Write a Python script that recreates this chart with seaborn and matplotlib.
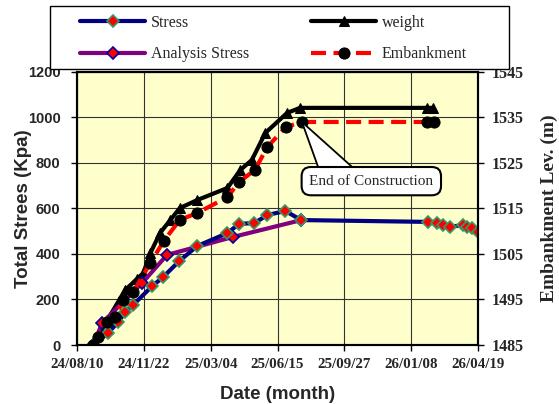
import matplotlib
matplotlib.use("Agg")
import matplotlib.pyplot as plt
from matplotlib.patches import Rectangle, Polygon
import seaborn as sns
import numpy as np

# Date axis: days counted from the first tick
tick_days = [0, 104, 208, 312, 416, 520, 624]
tick_labels = ["24/08/10", "24/11/22", "25/03/04", "25/06/15",
               "25/09/27", "26/01/08", "26/04/19"]

# Measured total stress (kPa)
stress_days = [25, 48, 64, 75, 87, 117, 134, 159, 187, 234, 252, 276, 296,
               324, 349, 546, 560, 570, 581, 600, 607, 615, 624]
stress_kpa = [0, 53, 101, 145, 176, 259, 299, 369, 435, 492, 532, 536, 571,
              589, 549, 541, 536, 527, 519, 527, 519, 514, 497]

# Analysis stress (kPa)
analysis_days = [25, 39, 101, 140, 243, 349]
analysis_kpa = [0, 97, 272, 396, 475, 549]

# Fill weight (kPa)
weight_days = [25, 47, 75, 93, 103, 114, 129, 145, 160, 187, 234, 254, 272,
               293, 327, 347, 545, 554]
weight_kpa = [0, 110, 242, 290, 316, 404, 492, 549, 602, 637, 690, 769, 813,
              932, 1020, 1042, 1042, 1042]

# Embankment level (m)
emb_days = [25, 33, 47, 59, 72, 87, 114, 135, 160, 187, 234, 252, 277, 296,
            325, 350, 545, 556]
emb_lev = [1485.0, 1486.8, 1490.1, 1491.2, 1494.9, 1496.6, 1503.0, 1507.9,
           1512.5, 1514.0, 1517.5, 1520.8, 1523.5, 1528.5, 1532.9, 1534.0,
           1534.0, 1534.0]

SERIF = ["Liberation Serif", "DejaVu Serif"]

sns.set_theme(style="white")
plt.rcParams["font.family"] = ["Liberation Sans", "DejaVu Sans"]

fig = plt.figure(figsize=(5.59, 4.04), dpi=100)
ax = fig.add_axes([0.138, 0.146, 0.717, 0.676])
ax.set_facecolor("#FFFFCC")
ax2 = ax.twinx()

sns.lineplot(x=weight_days, y=weight_kpa, ax=ax, sort=False, estimator=None,
             color="black", linewidth=3, marker="^", markersize=7,
             markerfacecolor="black", markeredgecolor="black", label="weight",
             zorder=3)
sns.lineplot(x=analysis_days, y=analysis_kpa, ax=ax, sort=False, estimator=None,
             color="#800080", linewidth=3, marker="D", markersize=6,
             markerfacecolor="red", markeredgecolor="#0000A0",
             markeredgewidth=1.2, label="Analysis Stress", zorder=4)
sns.lineplot(x=stress_days, y=stress_kpa, ax=ax, sort=False, estimator=None,
             color="#000080", linewidth=3, marker="D", markersize=6,
             markerfacecolor="red", markeredgecolor="#339966",
             markeredgewidth=1.2, label="Stress", zorder=5)
sns.lineplot(x=emb_days, y=emb_lev, ax=ax2, sort=False, estimator=None,
             color="red", linewidth=3, linestyle=(0, (3.6, 1.8)), marker="o",
             markersize=8, markerfacecolor="black", markeredgecolor="black",
             label="Embankment", zorder=3)

for a in (ax, ax2):
    if a.get_legend() is not None:
        a.get_legend().remove()

ax.set_xlim(0, 624)
ax.set_ylim(0, 1200)
ax2.set_ylim(1485, 1545)
ax.set_xticks(tick_days)
ax.set_xticklabels(tick_labels)
ax.set_yticks(np.arange(0, 1201, 200))
ax2.set_yticks(np.arange(1485, 1546, 10))

ax.grid(True, color="#333333", linewidth=0.8)
ax.set_axisbelow(True)
for a in (ax, ax2):
    for s in a.spines.values():
        s.set_color("black")
        s.set_linewidth(1.5)

ax.tick_params(axis="x", direction="out", length=4, width=1, color="black",
               bottom=True, pad=5)
ax.tick_params(axis="y", direction="out", length=4, width=1, color="black",
               left=True, pad=8)
ax2.tick_params(axis="y", direction="out", length=4, width=1, color="black",
                right=True, pad=6)
for lab in ax.get_yticklabels():
    lab.set_fontweight("bold")
    lab.set_fontsize(10.5)
for lab in ax.get_xticklabels():
    lab.set_family(SERIF)
    lab.set_fontweight("bold")
    lab.set_fontsize(10.8)
for lab in ax2.get_yticklabels():
    lab.set_family(SERIF)
    lab.set_fontweight("bold")
    lab.set_fontsize(11.5)

ax.set_xlabel("Date (month)", fontsize=13.5, fontweight="bold", labelpad=11)
ax.set_ylabel("Total Strees (Kpa)", fontsize=13.5, fontweight="bold", labelpad=-3)
ax2.set_ylabel("Embankment Lev. (m)", fontsize=14, fontweight="bold",
               family=SERIF, labelpad=12)

# "End of Construction" callout pointing at the last construction reading
tip = (emb_days[15], emb_lev[15])
ax2.add_patch(Polygon([tip, (378, 1523.0), (437, 1523.0)], closed=True,
                      fc="white", ec="black", lw=1.3, zorder=9, clip_on=False))
ax2.text(458, 1521.0, "End of Construction", ha="center", va="center",
         fontsize=11, family=SERIF, zorder=10,
         bbox=dict(boxstyle="round,pad=0.5,rounding_size=0.6", fc="white",
                   ec="black", lw=1.5))

# Legend box above the plot area
fig.patches.append(Rectangle((50 / 559, 1 - 69 / 404), 459 / 559, 63 / 404,
                             transform=fig.transFigure, fc="white",
                             ec="black", lw=1.0, zorder=19))

h1, l1 = ax.get_legend_handles_labels()
h2, l2 = ax2.get_legend_handles_labels()
hd = dict(zip(l1 + l2, h1 + h2))
order = ["Stress", "Analysis Stress", "weight", "Embankment"]
leg = fig.legend([hd[k] for k in order], order, ncol=2,
                 loc="upper left", bbox_to_anchor=(80 / 559, 1 - 15 / 404),
                 frameon=False, borderpad=0, borderaxespad=0,
                 handlelength=4.1, handletextpad=0.35,
                 columnspacing=3.85, labelspacing=0.95,
                 prop=dict(family=SERIF, size=11.5))
leg.set_zorder(20)

fig.savefig("out.png", dpi=100, facecolor="white")
